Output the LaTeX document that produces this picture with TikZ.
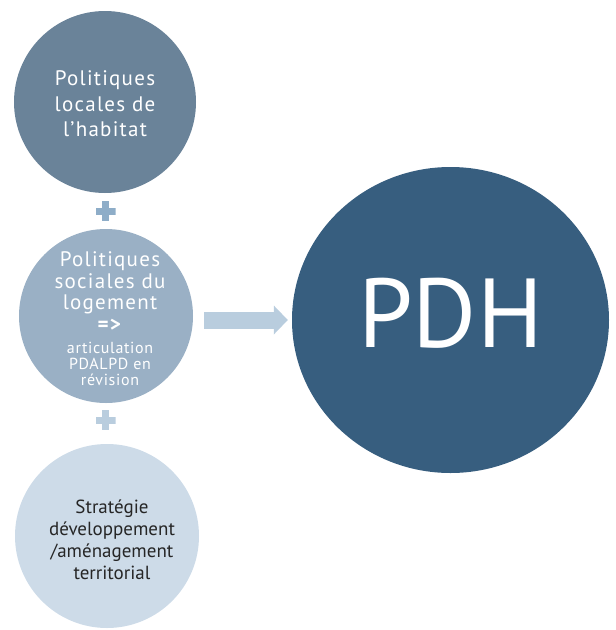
\documentclass[tikz,border=0pt]{standalone}
\usepackage{fontspec}
\setmainfont{PT Sans}
\usetikzlibrary{arrows.meta,shapes.geometric}

\definecolor{bleuLocal}{HTML}{6A8399}
\definecolor{bleuSocial}{HTML}{9AB0C5}
\definecolor{bleuTerritoire}{HTML}{CDDBE8}
\definecolor{bleuPDH}{HTML}{375E7F}
\definecolor{bleuFleche}{HTML}{B9CDDE}
\definecolor{bleuPlus}{HTML}{8EADC8}

\begin{document}
\begin{tikzpicture}[x=1pt,y=-1pt]
  \tikzstyle{bulle}=[circle,inner sep=0pt]
  \tikzstyle{texte}=[align=center,inner sep=0pt,text=white]
  \tikzstyle{croix}=[minimum size=20pt,inner sep=0pt,path picture={
      \fill[#1] ([xshift=-10pt,yshift=-3.5pt]path picture bounding box.center) rectangle ++(20pt,7pt);
      \fill[#1] ([xshift=-3.5pt,yshift=-10pt]path picture bounding box.center) rectangle ++(7pt,20pt);}]
  \useasboundingbox (0,0) rectangle (616,630);

  % les trois bulles de gauche
  \node[bulle,fill=bleuLocal,minimum size=182pt] (locales) at (105,102) {};
  \node[bulle,fill=bleuSocial,minimum size=174pt] (sociales) at (106,316) {};
  \node[bulle,fill=bleuTerritoire,minimum size=184pt] (territoire) at (107,536) {};

  \node[texte,font=\fontsize{21}{25.5}\selectfont\addfontfeature{LetterSpace=6}] (txtLocales)
    at ([yshift=-2pt]locales.center) {Politiques\\locales de\\l’habitat};
  \node[texte,font=\fontsize{21}{21.5}\selectfont\addfontfeature{LetterSpace=6}] (txtSociales)
    at ([xshift=4pt,yshift=-3pt]sociales.center)
    {Politiques\\sociales du\\logement\\\textbf{=>}\\[1pt]
     {\fontsize{16}{15}\selectfont\addfontfeature{LetterSpace=4}articulation}\\[-6pt]
     {\fontsize{16}{15}\selectfont\addfontfeature{LetterSpace=4}PDALPD en}\\[-5pt]
     {\fontsize{16}{15}\selectfont\addfontfeature{LetterSpace=4}révision}};
  \node[texte,text=black!85,font=\fontsize{19}{22}\selectfont] (txtTerritoire)
    at ([xshift=5pt,yshift=-4pt]territoire.center) {Stratégie\\développement\\/aménagement\\territorial};

  % les signes plus
  \node[croix=bleuPlus] (plusA) at (105.5,211) {};
  \node[croix=bleuFleche] (plusB) at (105.5,420) {};

  % le PDH
  \node[ellipse,fill=bleuPDH,inner sep=0pt,minimum width=317pt,minimum height=306pt] (pdh) at (450.5,320) {};
  \node[text=white,font=\fontsize{98}{98}\selectfont] (sigle) at ([yshift=7pt]pdh.center) {PDH};

  \draw[bleuFleche,line width=17pt,-{Triangle[length=14pt,width=29pt,line width=0pt]},shorten <=11pt,shorten >=4pt]
    (pdh.west -| sociales.east) -- (pdh.west);
\end{tikzpicture}
\end{document}
